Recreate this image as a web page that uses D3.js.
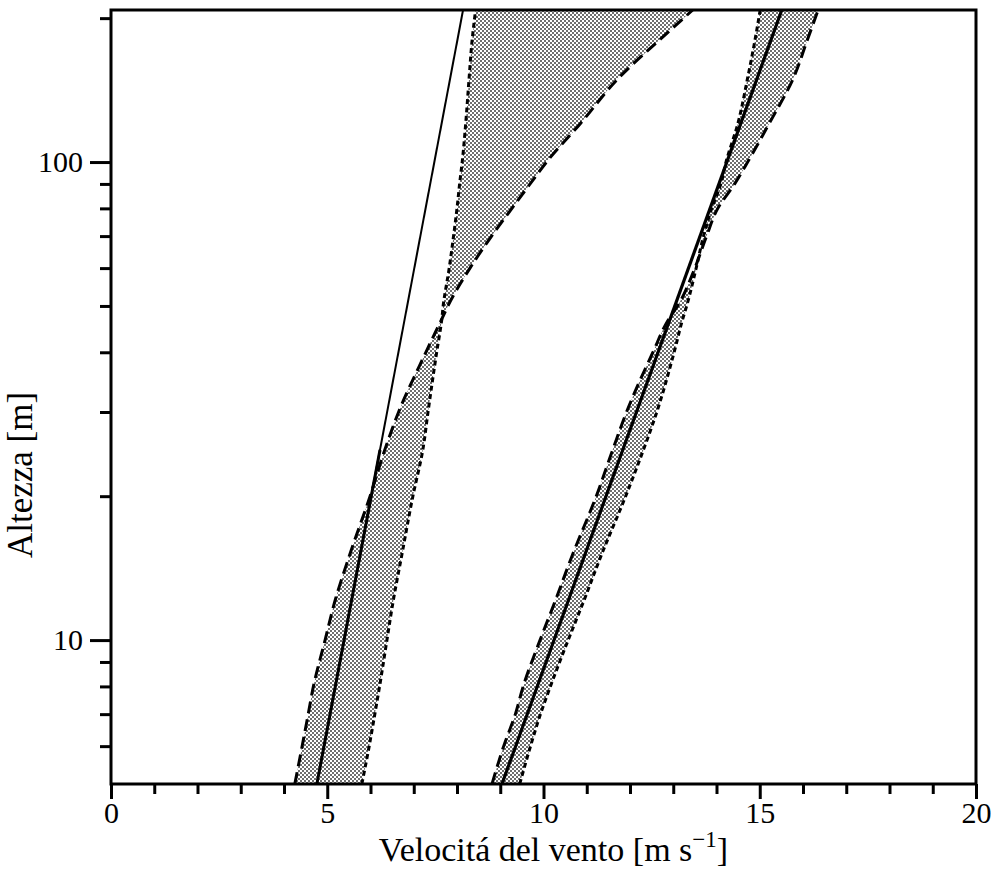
<!DOCTYPE html>
<html>
<head>
<meta charset="utf-8">
<script src="https://cdn.jsdelivr.net/npm/d3@7"></script>
<style>
  html, body { margin: 0; padding: 0; background: #fff; }
  svg { display: block; }
  text { font-family: "Liberation Serif", "DejaVu Serif", serif; fill: #000; }
</style>
</head>
<body>
<svg id="chart" width="991" height="872"></svg>
<script>
// ---- data ----
const heights    = [5, 6, 7, 8, 10, 12, 15, 20, 25, 30, 40, 47, 50, 60, 70, 80, 90, 100, 120, 150, 180, 208];
const leftLong   = [4.25, 4.42, 4.56, 4.68, 4.95, 5.17, 5.51, 5.99, 6.33, 6.65, 7.28, 7.65, 7.79, 8.30, 8.80, 9.27, 9.69, 10.07, 10.84, 11.74, 12.68, 13.45];
const leftShort  = [5.80, 5.97, 6.10, 6.21, 6.38, 6.52, 6.72, 6.98, 7.21, 7.33, 7.53, 7.65, 7.68, 7.82, 7.92, 8.00, 8.06, 8.12, 8.20, 8.28, 8.35, 8.43];
const rightLong  = [8.81, 9.08, 9.35, 9.53, 9.92, 10.26, 10.66, 11.22, 11.60, 11.92, 12.53, 12.90, 13.10, 13.50, 13.77, 14.03, 14.42, 14.72, 15.21, 15.78, 16.10, 16.35];
const rightShort = [9.45, 9.70, 9.93, 10.16, 10.57, 10.92, 11.33, 11.90, 12.31, 12.62, 13.02, 13.22, 13.31, 13.53, 13.70, 13.89, 14.10, 14.22, 14.49, 14.72, 14.89, 15.01];

const leftSolidZ  = [5, 208];
const leftSolidU  = [4.76, 8.14];
const leftBoldZ   = [5, 25];
const leftBoldU   = [4.76, 6.22];
const rightSolidZ = [5, 208];
const rightSolidU = [9.04, 15.51];

const xMajorTicks = [0, 5, 10, 15, 20];
const xMinorTicks = [1, 2, 3, 4, 6, 7, 8, 9, 11, 12, 13, 14, 16, 17, 18, 19];
const yMajorTicks = [10, 100];
const yMinorTicks = [6, 7, 8, 9, 20, 30, 40, 50, 60, 70, 80, 90, 200];

const xTitle = "Velocitá del vento [m s";
const yTitle = "Altezza [m]";

// ---- layout ----
const svg = d3.select("#chart");
const L = 111, R = 976, T = 10, B = 784;
const x = d3.scaleLinear().domain([0, 20]).range([L, R]);
const y = d3.scaleLog().domain([5, 208]).range([B, T]);

const defs = svg.append("defs");
const pat = defs.append("pattern").attr("id", "stipple")
  .attr("patternUnits", "userSpaceOnUse").attr("width", 4).attr("height", 4);
pat.append("rect").attr("width", 4).attr("height", 4).attr("fill", "#ffffff");
pat.append("rect").attr("x", 0).attr("y", 0).attr("width", 2).attr("height", 2).attr("fill", "#6e6e6e");
pat.append("rect").attr("x", 2).attr("y", 2).attr("width", 2).attr("height", 2).attr("fill", "#6e6e6e");

defs.append("clipPath").attr("id", "plotclip")
  .append("rect").attr("x", L).attr("y", T).attr("width", R - L).attr("height", B - T);

const g = svg.append("g").attr("clip-path", "url(#plotclip)");

const bandData = (a, b) => heights.map((z, i) => ({ z, a: a[i], b: b[i] }));
const curveData = (u) => heights.map((z, i) => ({ z, u: u[i] }));
const pairData = (zs, us) => zs.map((z, i) => ({ z, u: us[i] }));

const area = d3.area()
  .y(d => y(d.z)).x0(d => x(d.a)).x1(d => x(d.b))
  .curve(d3.curveMonotoneY);
const line = d3.line().x(d => x(d.u)).y(d => y(d.z)).curve(d3.curveMonotoneY);

// shaded bands
[[leftLong, leftShort], [rightLong, rightShort]].forEach(([a, b]) => {
  g.append("path").attr("d", area(bandData(a, b)))
    .attr("fill", "url(#stipple)").attr("stroke", "none");
});

// solid lines
g.append("path").attr("d", line(pairData(leftSolidZ, leftSolidU)))
  .attr("fill", "none").attr("stroke", "#000").attr("stroke-width", 2);
g.append("path").attr("d", line(pairData(leftBoldZ, leftBoldU)))
  .attr("fill", "none").attr("stroke", "#000").attr("stroke-width", 3);
g.append("path").attr("d", line(pairData(rightSolidZ, rightSolidU)))
  .attr("fill", "none").attr("stroke", "#000").attr("stroke-width", 3.2);

// dashed curves
[leftLong, rightLong].forEach(u => {
  g.append("path").attr("d", line(curveData(u)))
    .attr("fill", "none").attr("stroke", "#000").attr("stroke-width", 3)
    .attr("stroke-dasharray", "12,6");
});
[leftShort, rightShort].forEach(u => {
  g.append("path").attr("d", line(curveData(u)))
    .attr("fill", "none").attr("stroke", "#000").attr("stroke-width", 3)
    .attr("stroke-dasharray", "5,3.5");
});

// axes
const styleAxis = sel => {
  sel.select(".domain").remove();
  sel.selectAll(".tick line").attr("stroke", "#000").attr("stroke-width", 3);
  sel.selectAll(".tick text").style("font-family", "Liberation Serif, serif").style("font-size", "30px");
};
svg.append("g").attr("transform", `translate(0,${B})`)
  .call(d3.axisBottom(x).tickValues(xMajorTicks).tickSize(15).tickPadding(3).tickFormat(d3.format("d")))
  .call(styleAxis);
svg.append("g").attr("transform", `translate(0,${B})`)
  .call(d3.axisBottom(x).tickValues(xMinorTicks).tickSize(10).tickFormat(""))
  .call(styleAxis);
svg.append("g").attr("transform", `translate(${L},0)`)
  .call(d3.axisLeft(y).tickValues(yMajorTicks).tickSize(21).tickPadding(7).tickFormat(d3.format("d")))
  .call(styleAxis);
svg.append("g").attr("transform", `translate(${L},0)`)
  .call(d3.axisLeft(y).tickValues(yMinorTicks).tickSize(11).tickFormat(""))
  .call(styleAxis);

// frame
svg.append("rect").attr("x", L).attr("y", T).attr("width", R - L).attr("height", B - T)
  .attr("fill", "none").attr("stroke", "#000").attr("stroke-width", 3);

// titles
const xt = svg.append("text").attr("x", (L + R) / 2 + 10).attr("y", 861)
  .attr("text-anchor", "middle").style("font-size", "34px");
xt.append("tspan").text(xTitle);
xt.append("tspan").attr("dy", -14).style("font-size", "23px").text("\u22121");
xt.append("tspan").attr("dy", 14).text("]");

svg.append("text").attr("transform", `translate(32,475) rotate(-90)`)
  .attr("text-anchor", "middle").style("font-size", "35px").text(yTitle);
</script>
</body>
</html>
